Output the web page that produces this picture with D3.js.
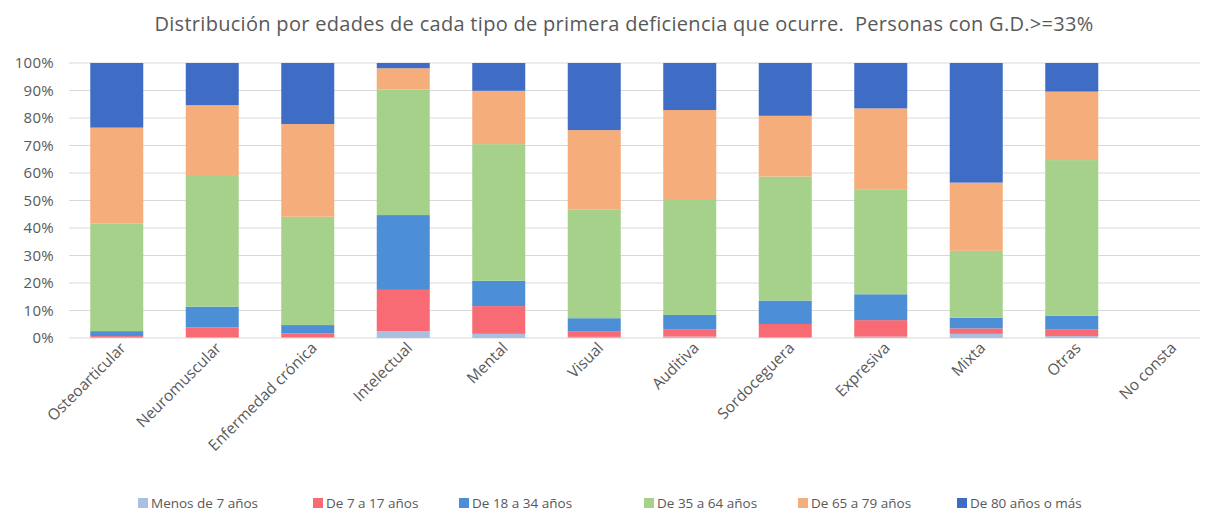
<!DOCTYPE html>
<html><head><meta charset="utf-8">
<script src="https://cdn.jsdelivr.net/npm/d3@7"></script>
<style>body{margin:0;background:#fff}svg{display:block}text{font-family:"Open Sans","Noto Sans",sans-serif;fill:#595959}</style>
</head><body><svg id="c" width="1214" height="514"></svg>
<script>
const categories = ["Osteoarticular","Neuromuscular","Enfermedad crónica","Intelectual","Mental","Visual","Auditiva","Sordoceguera","Expresiva","Mixta","Otras","No consta"];
const seriesNames = ["Menos de 7 años","De 7 a 17 años","De 18 a 34 años","De 35 a 64 años","De 65 a 79 años","De 80 años o más"];
const menos7   = [0.2, 0.3, 0.3, 2.5, 1.5, 0.4, 0.5, 0.3, 0.5, 1.5, 0.7, 0];
const de7a17   = [0.5, 3.5, 1.4, 15.0, 10.1, 1.9, 2.7, 4.8, 6.0, 2.0, 2.5, 0];
const de18a34  = [1.8, 7.6, 3.0, 27.2, 9.2, 4.9, 5.2, 8.5, 9.4, 3.9, 4.9, 0];
const de35a64  = [39.2, 47.5, 39.4, 45.7, 49.7, 39.6, 41.8, 45.1, 38.2, 24.3, 56.6, 0];
const de65a79  = [34.8, 25.8, 33.7, 7.7, 19.4, 28.8, 32.7, 22.1, 29.4, 24.8, 24.9, 0];
const de80     = [23.5, 15.3, 22.2, 1.9, 10.1, 24.4, 17.1, 19.2, 16.5, 43.5, 10.4, 0];
const yTicks = [0,10,20,30,40,50,60,70,80,90,100];
const colors = ["#A9C0E0","#F96B74","#4C8FD6","#A5D18A","#F5AD7C","#3F6DC6"];
const title = "Distribución por edades de cada tipo de primera deficiencia que ocurre.  Personas con G.D.>=33%";

(function(){
const seriesVals = [menos7,de7a17,de18a34,de35a64,de65a79,de80];
const rows = categories.map((c,i)=>{const r={cat:c}; seriesNames.forEach((s,j)=>r[s]=seriesVals[j][i]); return r;});
const stack = d3.stack().keys(seriesNames)(rows);

const svg = d3.select("#c");
const pl=69, pr=1215, pt=63, pb=338;
const x = d3.scaleBand().domain(categories).range([pl,pr]).paddingInner(0.445).paddingOuter(0.2225);
const y = d3.scaleLinear().domain([0,100]).range([pb,pt]);

svg.append("text").attr("x",624).attr("y",31).attr("text-anchor","middle")
  .style("font-size","20px").style("letter-spacing","0.3px").style("white-space","pre").text(title);

svg.append("g").selectAll("line").data(yTicks).join("line")
  .attr("x1",pl).attr("x2",1200).attr("y1",d=>y(d)).attr("y2",d=>y(d))
  .attr("stroke","#D9D9D9").attr("stroke-width",1);

const ya = svg.append("g").attr("transform",`translate(${pl},0)`)
  .call(d3.axisLeft(y).tickValues(yTicks).tickFormat(d=>d+"%").tickSize(0).tickPadding(15));
ya.select(".domain").remove();
ya.selectAll("text").style("font-size","15px").style("letter-spacing","0.3px").style("font-family",'"Open Sans",sans-serif').attr("fill","#595959");

svg.append("g").selectAll("g").data(stack).join("g").attr("fill",(d,i)=>colors[i])
  .selectAll("rect").data(d=>d).join("rect")
  .attr("x",d=>x(d.data.cat)).attr("width",x.bandwidth())
  .attr("y",d=>y(d[1])).attr("height",d=>Math.max(0,y(d[0])-y(d[1])));

const xa = svg.append("g").attr("transform",`translate(0,${pb})`)
  .call(d3.axisBottom(x).tickSize(0).tickPadding(0));
xa.select(".domain").remove();
xa.selectAll("text").style("font-size","15.5px").style("font-family",'"Open Sans",sans-serif').attr("fill","#595959")
  .attr("text-anchor","end").attr("dy","0").attr("transform","translate(10,11) rotate(-45)");

const legX = [138,313,459,644,798,957];
const lg = svg.append("g").selectAll("g").data(seriesNames).join("g")
  .attr("transform",(d,i)=>`translate(${legX[i]},508)`);
lg.append("rect").attr("x",0).attr("y",-10).attr("width",10).attr("height",10).attr("fill",(d,i)=>colors[i]);
lg.append("text").attr("x",13).attr("y",0).style("font-size","13.5px").text(d=>d);
})();
</script></body></html>
